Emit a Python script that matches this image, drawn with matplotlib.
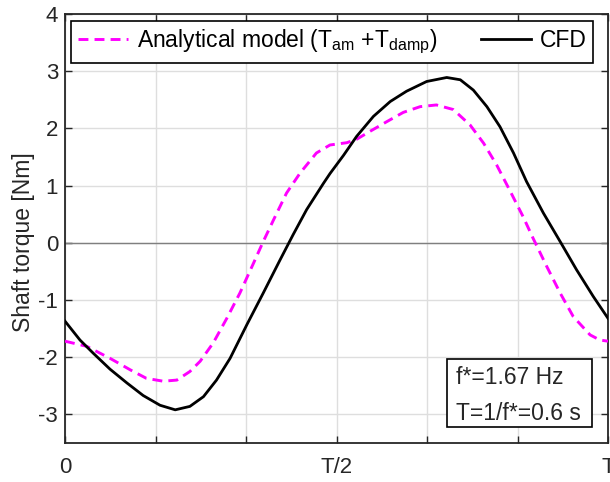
import matplotlib
matplotlib.use("Agg")
import matplotlib.pyplot as plt
from matplotlib.patches import Rectangle

plt.rcParams['font.family'] = ['Liberation Sans', 'DejaVu Sans']
plt.rcParams['mathtext.fontset'] = 'custom'
plt.rcParams['mathtext.rm'] = 'Liberation Sans'
plt.rcParams['mathtext.it'] = 'Liberation Sans:italic'
plt.rcParams['axes.unicode_minus'] = False

# phase within one period (fraction of T)
cfd_t = [0, 0.0276, 0.052, 0.083, 0.114, 0.144, 0.175, 0.203, 0.230, 0.255, 0.279,
         0.304, 0.335, 0.365, 0.396, 0.420, 0.445, 0.476, 0.488, 0.513, 0.537, 0.568,
         0.599, 0.629, 0.666, 0.703, 0.728, 0.752, 0.777, 0.801, 0.826, 0.850, 0.881,
         0.912, 0.942, 0.973, 1.0]
cfd_torque = [-1.37, -1.70, -1.93, -2.21, -2.45, -2.67, -2.84, -2.92, -2.86, -2.69, -2.40,
              -2.02, -1.43, -0.88, -0.30, 0.14, 0.58, 1.04, 1.21, 1.53, 1.86, 2.21,
              2.47, 2.65, 2.82, 2.89, 2.85, 2.67, 2.38, 2.03, 1.57, 1.07, 0.52,
              0.02, -0.47, -0.94, -1.32]

model_t = [0, 0.040, 0.083, 0.120, 0.150, 0.181, 0.206, 0.230, 0.249, 0.273, 0.298,
           0.322, 0.347, 0.365, 0.384, 0.408, 0.433, 0.463, 0.488, 0.519, 0.537, 0.562,
           0.593, 0.623, 0.654, 0.684, 0.715, 0.746, 0.771, 0.795, 0.820, 0.844, 0.862,
           0.887, 0.912, 0.936, 0.967, 0.985, 1.0]
model_torque = [-1.72, -1.81, -2.02, -2.22, -2.37, -2.42, -2.40, -2.25, -2.07, -1.75, -1.32,
                -0.88, -0.36, 0.02, 0.40, 0.87, 1.22, 1.57, 1.71, 1.75, 1.81, 1.95,
                2.12, 2.28, 2.38, 2.41, 2.33, 2.06, 1.74, 1.36, 0.90, 0.45, 0.08,
                -0.41, -0.88, -1.29, -1.61, -1.70, -1.72]

x_ticks = [0, 1/6, 2/6, 3/6, 4/6, 5/6, 1]
x_ticklabels = ['0', '', '', 'T/2', '', '', 'T']
y_ticks = [-3, -2, -1, 0, 1, 2, 3, 4]

fig = plt.figure(figsize=(6.1, 4.82), dpi=100)
ax = fig.add_axes([65/610, 1-443/482, 543/610, 429/482])

ax.grid(True, color='#dedede', lw=1.0)
ax.set_axisbelow(True)
ax.axhline(0, color='#7f7f7f', lw=1.0, zorder=1)

ax.plot(model_t, model_torque, color='#ff00ff', lw=2.1, ls=(0, (3.4, 2.1)),
        label=r'Analytical model (T$_\mathrm{am}$ +T$_\mathrm{damp}$)', zorder=3,
        dash_joinstyle='round', dash_capstyle='butt')
ax.plot(cfd_t, cfd_torque, color='black', lw=2.0, label='CFD', zorder=4,
        solid_joinstyle='round')

ax.set_xlim(0, 1)
ax.set_ylim(-3.5, 4)
ax.set_xticks(x_ticks)
ax.set_xticklabels(x_ticklabels)
ax.set_yticks(y_ticks)
ax.tick_params(direction='in', length=5, width=1.0, labelsize=16, colors='#262626',
               top=True, right=True, pad=5)
ax.tick_params(axis='x', pad=10)
for s in ax.spines.values():
    s.set_color('#262626')
    s.set_linewidth(1.3)

ax.set_ylabel('Shaft torque [Nm]', fontsize=16.5, color='#262626')
ax.yaxis.set_label_coords(-0.056, 0.469)

leg = ax.legend(loc='upper left', bbox_to_anchor=(0.011, 0.984), borderaxespad=0,
                ncol=2, fontsize=16.5, frameon=True, fancybox=False, framealpha=1,
                edgecolor='black', handlelength=2.18, handletextpad=0.39,
                columnspacing=1.9, borderpad=0.3)
leg.get_frame().set_linewidth(1.2)

ax.add_patch(Rectangle((0.704, 0.0366), 0.970 - 0.704, 0.195 - 0.0366,
                       transform=ax.transAxes, facecolor='white', edgecolor='black',
                       lw=1.2, zorder=5))
ax.text(0.72, 0.1375, 'f*=1.67 Hz', transform=ax.transAxes, fontsize=16.5,
        va='baseline', ha='left', zorder=6, color='#262626')
ax.text(0.72, 0.0536, 'T=1/f*=0.6 s', transform=ax.transAxes, fontsize=16.5,
        va='baseline', ha='left', zorder=6, color='#262626')

fig.savefig('out.png', dpi=100)
